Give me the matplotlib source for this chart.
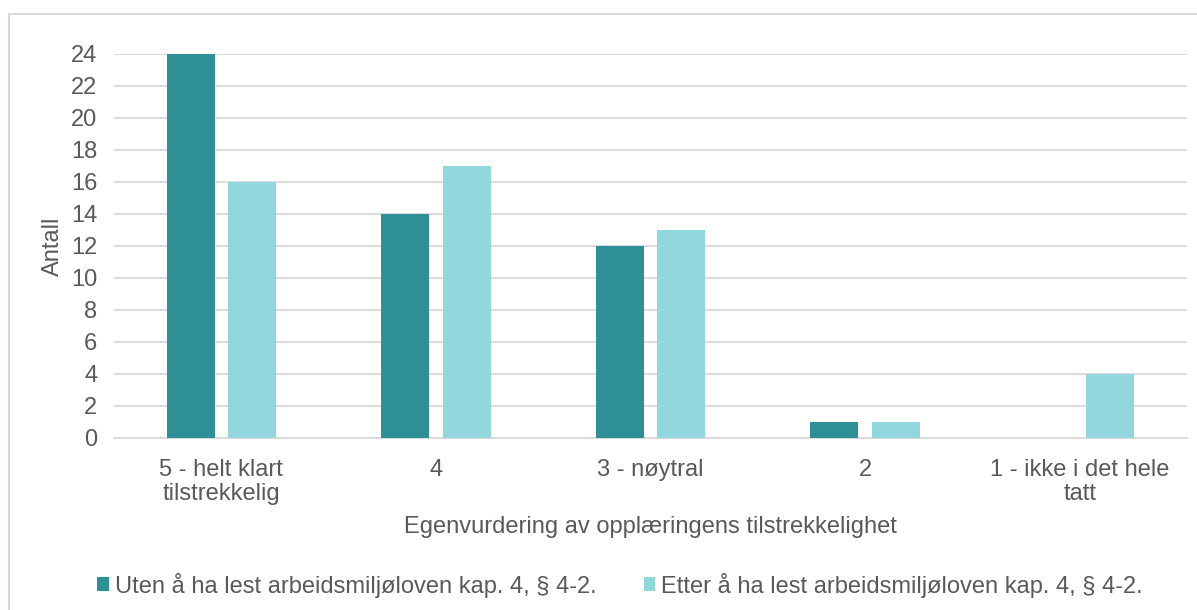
import numpy as np
import matplotlib.pyplot as plt
from matplotlib.patches import Rectangle

plt.rcParams['font.family'] = ['Liberation Sans', 'DejaVu Sans']

categories = ['5 - helt klart\ntilstrekkelig', '4', '3 - nøytral', '2', '1 - ikke i det hele\ntatt']
uten = [24, 14, 12, 1, 0]
etter = [16, 17, 13, 1, 4]
series_names = ['Uten å ha lest arbeidsmiljøloven kap. 4, § 4-2.',
                'Etter å ha lest arbeidsmiljøloven kap. 4, § 4-2.']
yticks = list(range(0, 25, 2))

dark = '#2E8F97'
light = '#92D6DE'
txt = '#595959'
grid = '#D9D9D9'
fs = 17

fig = plt.figure(figsize=(11.97, 6.10), dpi=100)
ax = fig.add_axes([114 / 1197, (610 - 438) / 610, (1187 - 114) / 1197, 384 / 610])

# outer chart frame (left and top edges visible)
fig.patches.append(Rectangle((9 / 1197, -0.05), 1.2, (610 - 14) / 610 + 0.05,
                             transform=fig.transFigure, fill=False,
                             edgecolor=grid, linewidth=1.5, zorder=0))

x = np.arange(len(categories))
w = 0.224
off = 0.143
ax.bar(x - off, uten, w, color=dark, label=series_names[0], zorder=3)
ax.bar(x + off, etter, w, color=light, label=series_names[1], zorder=3)

ax.set_xlim(-0.5, len(categories) - 0.5)
ax.set_ylim(0, 24)
ax.set_yticks(yticks)
ax.yaxis.grid(True, color=grid, linewidth=1.3, zorder=0)
ax.set_axisbelow(True)
for s in ['top', 'right', 'left']:
    ax.spines[s].set_visible(False)
ax.spines['bottom'].set_color(grid)
ax.spines['bottom'].set_linewidth(1.3)
ax.tick_params(axis='both', length=0, labelsize=fs, colors=txt)
ax.tick_params(axis='x', pad=15)
ax.tick_params(axis='y', pad=12)
ax.set_xticks(x)
ax.set_xticklabels(categories, linespacing=1.15)

ax.set_ylabel('Antall', fontsize=fs, color=txt, labelpad=5)
ax.set_xlabel('Egenvurdering av opplæringens tilstrekkelighet', fontsize=fs,
              color=txt, labelpad=8)

leg = fig.legend(loc='center', bbox_to_anchor=(0.518, 1 - 585 / 610), ncol=2,
                 frameon=False, fontsize=fs, handlelength=0.5, handleheight=0.5,
                 handletextpad=0.25, columnspacing=2.0)
for t in leg.get_texts():
    t.set_color(txt)

fig.savefig('out.png', dpi=100)
